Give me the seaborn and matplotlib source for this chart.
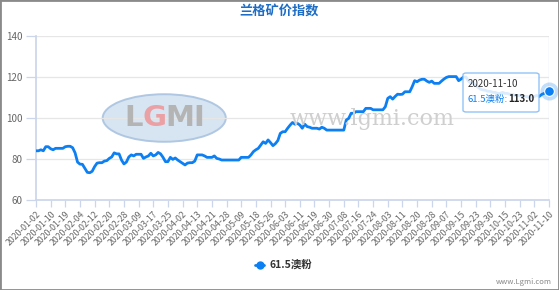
import numpy as np
import pandas as pd
import matplotlib
matplotlib.use("Agg")
import matplotlib.pyplot as plt
from matplotlib.patches import Ellipse, FancyBboxPatch, Rectangle
import seaborn as sns

title = "兰格矿价指数"
series_name = "61.5澳粉"
tick_labels = [
    "2020-01-02", "2020-01-10", "2020-01-19", "2020-02-04", "2020-02-12", "2020-02-20",
    "2020-02-28", "2020-03-09", "2020-03-17", "2020-03-25", "2020-04-02", "2020-04-13",
    "2020-04-21", "2020-04-28", "2020-05-09", "2020-05-18", "2020-05-26", "2020-06-03",
    "2020-06-11", "2020-06-19", "2020-06-30", "2020-07-08", "2020-07-16", "2020-07-24",
    "2020-08-03", "2020-08-11", "2020-08-20", "2020-08-28", "2020-09-07", "2020-09-15",
    "2020-09-23", "2020-09-30", "2020-10-15", "2020-10-23", "2020-11-02", "2020-11-10",
]
values = [
    84.0, 84.0, 84.5, 84.0, 86.0, 86.0, 85.0, 84.5, 85.2, 85.2,        # 0
    85.2, 85.2, 86.0, 86.2, 86.2, 85.5, 83.0, 78.5, 77.5, 77.4,        # 10
    75.5, 73.5, 73.3, 74.0, 76.3, 78.0, 78.2, 78.2, 79.0, 79.2,        # 20
    80.3, 81.0, 83.0, 82.5, 82.5, 79.5, 77.6, 78.5, 81.0, 82.0,        # 30
    81.5, 82.3, 82.3, 82.3, 80.3, 81.0, 81.5, 82.8, 81.5, 82.0,        # 40
    83.2, 82.5, 80.8, 78.7, 78.7, 80.8, 79.8, 80.5, 79.5, 78.7,        # 50
    77.9, 77.1, 78.0, 78.2, 78.2, 79.0, 82.0, 82.0, 82.0, 81.5,        # 60
    80.8, 80.8, 80.8, 81.5, 80.3, 80.0, 79.5, 79.5, 79.5, 79.5,        # 70
    79.5, 79.5, 79.5, 79.5, 80.8, 80.8, 80.8, 80.8, 82.0, 83.6,        # 80
    84.5, 85.2, 86.8, 88.4, 87.6, 89.3, 88.0, 86.5, 87.5, 89.0,        # 90
    92.5, 93.3, 93.3, 95.0, 96.5, 97.8, 97.0, 97.4, 96.6, 95.0,        # 100
    97.0, 95.8, 95.5, 95.0, 95.0, 95.0, 94.6, 95.5, 95.0, 94.1,        # 110
    94.1, 94.1, 94.1, 94.1, 94.1, 94.1, 94.1, 99.0, 99.8, 102.3,       # 120
    102.3, 103.1, 103.1, 103.1, 103.1, 104.7, 104.7, 104.7, 104.0, 104.0,  # 130
    104.0, 104.0, 104.0, 105.5, 109.6, 110.4, 109.2, 110.5, 111.6, 111.5,  # 140
    111.6, 112.8, 112.8, 112.8, 115.3, 118.2, 117.7, 118.5, 118.9, 118.9,  # 150
    118.0, 117.4, 118.0, 116.9, 116.9, 116.9, 118.0, 119.0, 119.8, 120.2,  # 160
    120.2, 120.2, 120.2, 118.2, 119.0, 120.0, 120.0, 118.0, 117.0, 117.0,  # 170
    116.0, 115.0, 114.0, 113.7, 113.5, 113.0, 113.0, 112.5, 112.5, 112.0,  # 180
    112.0, 112.5, 112.0, 112.0, 111.5, 111.5, 111.0, 111.0, 111.0, 110.5,  # 190
    110.5, 110.5, 110.0, 110.0, 110.5, 111.0, 110.5, 111.5, 112.0, 112.5,  # 200
    113.0,                                                              # 210
]
tooltip_date = "2020-11-10"
tooltip_value = "113.0"
y_ticks = [60, 80, 100, 120, 140]

LINE = "#0c7ff2"
GRID = "#e6e6e6"
AXIS = "#ccd6eb"
TXT = "#666666"

sns.set_theme(style="white")
plt.rcParams["font.family"] = ["Noto Sans CJK SC", "DejaVu Sans"]

W, H = 559, 290
fig = plt.figure(figsize=(W / 100, H / 100), dpi=100)
ax = fig.add_axes([36 / W, 1 - 200 / H, (549 - 36) / W, (200 - 36) / H])

df = pd.DataFrame({"idx": np.arange(len(values)), "value": values})

# watermark logo and text
ax.add_patch(Ellipse((0.25, 0.5), 0.24, 0.29, transform=ax.transAxes,
                     facecolor="#d3e1f0", edgecolor="#a9c3e0", lw=1.4, zorder=0, alpha=0.9))
fig.text(124 / W, 1 - 118 / H, "L", fontsize=21, color="#b4b4b4", fontweight="bold",
         ha="left", va="center", family="DejaVu Sans", zorder=1)
fig.text(143 / W, 1 - 118 / H, "G", fontsize=21, color="#eba0a4", fontweight="bold",
         ha="left", va="center", family="DejaVu Sans", zorder=1)
fig.text(165 / W, 1 - 118 / H, "MI", fontsize=21, color="#b4b4b4", fontweight="bold",
         ha="left", va="center", family="DejaVu Sans", zorder=1)
fig.text(290 / W, 1 - 119 / H, "www.lgmi.com", fontsize=16, color="#cfcfcf",
         ha="left", va="center", family="DejaVu Serif", zorder=1)

sns.lineplot(data=df, x="idx", y="value", ax=ax, color=LINE, lw=2.0, zorder=3, legend=False)

ax.axvline(len(values) - 1, color="#dde3ee", lw=1, zorder=2)
ax.plot([len(values) - 1], [values[-1]], "o", ms=13, color=LINE, alpha=0.25, zorder=4,
        markeredgewidth=0, clip_on=False)
ax.plot([len(values) - 1], [values[-1]], "o", ms=7, color=LINE, zorder=5,
        markeredgecolor="white", markeredgewidth=0.8, clip_on=False)

ax.set_xlim(0, len(values) - 1)
ax.set_ylim(60, 140)
ax.set_yticks(y_ticks)
ax.set_yticklabels([str(v) for v in y_ticks], fontsize=7, color=TXT)
ax.set_xticks(np.arange(0, len(values), 6))
ax.set_xticklabels(tick_labels, rotation=45, ha="right", rotation_mode="anchor",
                   fontsize=6.3, color=TXT)
ax.set_xlabel("")
ax.set_ylabel("")
ax.grid(axis="y", color=GRID, lw=0.9)
ax.grid(axis="x", visible=False)
for s in ["top", "right"]:
    ax.spines[s].set_visible(False)
ax.spines["left"].set_color(AXIS)
ax.spines["bottom"].set_color(AXIS)
ax.tick_params(axis="x", length=5, color=AXIS, width=0.9, pad=2, bottom=True)
ax.tick_params(axis="y", length=7, color=AXIS, width=0.9, pad=3, left=True)

# title
fig.text(0.5, 1 - 12 / H, title, ha="center", va="center", fontsize=9.5,
         fontweight="bold", color="#1d6dc6")

# legend
fig.add_artist(plt.Line2D([255 / W, 264 / W], [1 - 265 / H, 1 - 265 / H],
                          color=LINE, lw=2, transform=fig.transFigure))
fig.add_artist(plt.Line2D([259.5 / W], [1 - 265 / H], marker="o", ms=5, color=LINE,
                          transform=fig.transFigure))
fig.text(269 / W, 1 - 265 / H, series_name, ha="left", va="center", fontsize=7.5,
         fontweight="bold", color="#333333")

fig.text(552 / W, 1 - 282 / H, "www.Lgmi.com", ha="right", va="center",
         fontsize=5.5, color="#888888")

# tooltip
box = FancyBboxPatch((463 / W, 1 - 112 / H), (539 - 463) / W, (112 - 73) / H,
                     boxstyle="round,pad=0,rounding_size=0.006", transform=fig.transFigure,
                     facecolor="white", edgecolor="#7fb8f5", lw=1, alpha=0.85, zorder=10)
fig.add_artist(box)
fig.text(468 / W, 1 - 84 / H, tooltip_date, ha="left", va="center", fontsize=7,
         color="#333333", zorder=11)
fig.text(468 / W, 1 - 99 / H, series_name + ":", ha="left", va="center",
         fontsize=6.8, color=LINE, zorder=11)
fig.text(508 / W, 1 - 99 / H, tooltip_value, ha="left", va="center", fontsize=7,
         fontweight="bold", color="#222222", zorder=11)

# outer frame
fig.add_artist(Rectangle((0, 0), 1, 1, transform=fig.transFigure, fill=False,
                         edgecolor="#8a8a8a", lw=2))

fig.savefig("out.png", dpi=100)
